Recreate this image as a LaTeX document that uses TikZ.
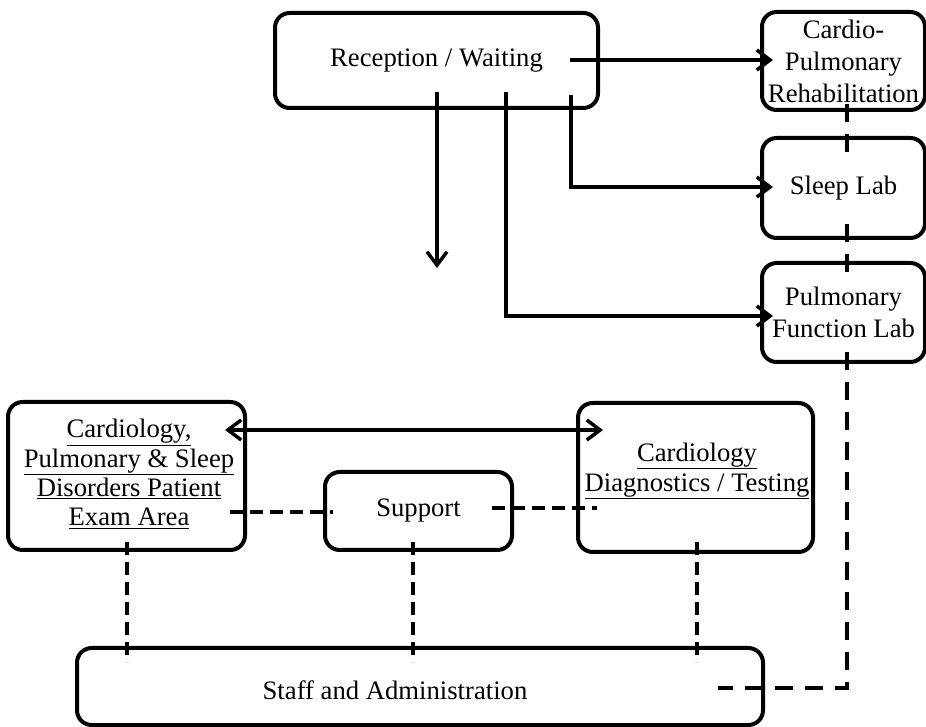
\documentclass[tikz,border=0pt]{standalone}
\usepackage{fontspec}
\setmainfont{Liberation Serif}
\usetikzlibrary{arrows.meta,calc}
\begin{document}
\begin{tikzpicture}[x=0.75pt,y=-0.75pt,
  box/.style={draw,line width=3pt,rounded corners=11pt,fill=white,inner sep=0pt,align=center,
    font=\fontsize{20}{24}\selectfont},
  txt/.style={inner sep=0pt,align=center,font=\fontsize{20}{24}\selectfont},
  arr/.style={line width=2.6pt,-{Straight Barb[length=10pt,width=15pt,line width=2.6pt]}},
  darr/.style={line width=2.6pt,{Straight Barb[length=10pt,width=15pt,line width=2.6pt]}-{Straight Barb[length=10pt,width=15pt,line width=2.6pt]}},
  dline/.style={line width=3.2pt,dash pattern=on 10pt off 5pt},
  dlong/.style={line width=3.6pt,dash pattern=on 13.5pt off 9pt}]
\useasboundingbox (0,0) rectangle (926,727);

% boxes
\node[box,minimum width=323*0.75pt,minimum height=95*0.75pt] (reception) at (436.5,60.5) {Reception / Waiting};
\node[box,minimum width=163*0.75pt,minimum height=98*0.75pt] (cardio) at (843.5,61) {Cardio-\\Pulmonary\\Rehabilitation};
\node[box,minimum width=163*0.75pt,minimum height=100*0.75pt] (sleep) at (843.5,188) {Sleep Lab};
\node[box,minimum width=163*0.75pt,minimum height=99*0.75pt] (pfl) at (843.5,312.5) {Pulmonary\\Function Lab};
\node[box,minimum width=237*0.75pt,minimum height=148*0.75pt] (exam) at (126.5,476) {};
\node[txt,font=\fontsize{20}{22}\selectfont] (examtxt) at (129,474) {\underline{Cardiology,}\\\underline{Pulmonary \& Sleep}\\\underline{Disorders Patient}\\\underline{Exam Area}};
\node[box,minimum width=187*0.75pt,minimum height=78*0.75pt] (support) at (418.5,511) {Support};
\node[box,minimum width=235*0.75pt,minimum height=149*0.75pt] (diag) at (695.5,477.5) {};
\node[txt,font=\fontsize{20}{22.5}\selectfont] (diagtxt) at (697,471) {\underline{Cardiology}\\\underline{Diagnostics / Testing}};
\node[box,minimum width=686*0.75pt,minimum height=77*0.75pt] (staff) at (420,686.5) {};
\node[txt] (stafftxt) at (395,690) {Staff and Administration};

% right column dashed line
\coordinate (c1) at (847,104);
\coordinate (c2) at (847,158);
\coordinate (c3) at (847,224);
\coordinate (c4) at (847,280);
\coordinate (c5) at (847,352);
\coordinate (c6) at (847,688);
\coordinate (c7) at (718,688);
\draw[dlong] (c1) -- (c2);
\draw[dlong] (c3) -- (c4);
\draw[dlong] (c5) -- (c6) -- (c7);

% reception connectors
\coordinate (r1) at (570,60);
\coordinate (r1e) at (773,60);
\draw[arr] (r1) -- (r1e);
\coordinate (r2) at (437,92);
\coordinate (r2e) at (437,268);
\draw[arr] (r2) -- (r2e);
\coordinate (r3) at (506,92);
\coordinate (r3e) at (773,316);
\draw[arr] (r3) |- (r3e);
\coordinate (r4) at (571,95);
\coordinate (r4e) at (773,187);
\draw[arr] (r4) |- (r4e);

% exam <-> diagnostics
\coordinate (e1) at (225,430);
\coordinate (e2) at (603,430);
\draw[darr] (e1) -- (e2);

% dashed links
\coordinate (s1) at (230,512);
\coordinate (s2) at (333,512);
\draw[dline] (s1) -- (s2);
\coordinate (s3) at (492,508);
\coordinate (s4) at (597,508);
\draw[dline] (s3) -- (s4);
\coordinate (v1) at (127,542);
\coordinate (v1e) at (127,662);
\draw[dline] (v1) -- (v1e);
\coordinate (v2) at (413,542);
\coordinate (v2e) at (413,662);
\draw[dline] (v2) -- (v2e);
\coordinate (v3) at (697,542);
\coordinate (v3e) at (697,662);
\draw[dline] (v3) -- (v3e);
\end{tikzpicture}
\end{document}
